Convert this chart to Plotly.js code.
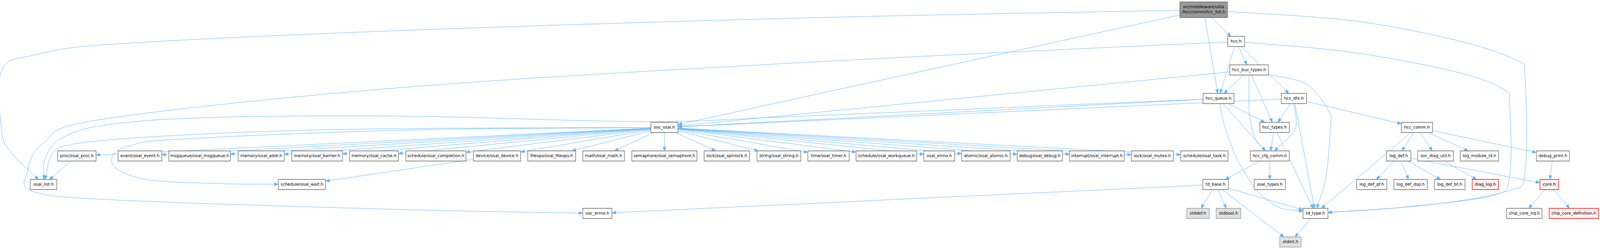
<!DOCTYPE html>
<html>
<head>
<meta charset="utf-8">
<script src="https://cdn.plot.ly/plotly-3.0.1.min.js"></script>
<style>html,body{margin:0;padding:0;background:#fff;overflow:hidden;}</style>
</head>
<body>
<div id="graph"></div>
<script>
// ---- data: which header includes which ----
var mainFile = 'src/middleware/utils/hcc/comm/hcc_list.h';
var sysHeaders = ['stddef.h', 'stdbool.h', 'stdint.h'];
var missingHeaders = ['diag_log.h', 'core.h', 'chip_core_definition.h'];

var osalHeaders = ['proc/osal_proc.h', 'event/osal_event.h', 'msgqueue/osal_msgqueue.h',
  'memory/osal_addr.h', 'memory/osal_barrier.h', 'memory/osal_cache.h',
  'schedule/osal_completion.h', 'device/osal_device.h', 'fileops/osal_fileops.h',
  'math/osal_math.h', 'semaphore/osal_semaphore.h', 'lock/osal_spinlock.h',
  'string/osal_string.h', 'time/osal_timer.h', 'schedule/osal_workqueue.h',
  'osal_errno.h', 'atomic/osal_atomic.h', 'debug/osal_debug.h',
  'interrupt/osal_interrupt.h', 'lock/osal_mutex.h', 'schedule/osal_task.h'];

var includes = [
  [mainFile, 'hcc.h'], [mainFile, 'hcc_queue.h'], [mainFile, 'soc_osal.h'],
  [mainFile, 'osal_list.h'], [mainFile, 'td_type.h'],
  ['hcc.h', 'hcc_bus_types.h'], ['hcc.h', 'hcc_queue.h'], ['hcc.h', 'hcc_dfx.h'],
  ['hcc.h', 'soc_errno.h'], ['hcc.h', 'td_type.h'],
  ['hcc_bus_types.h', 'hcc_queue.h'], ['hcc_bus_types.h', 'hcc_types.h'],
  ['hcc_bus_types.h', 'hcc_cfg_comm.h'], ['hcc_bus_types.h', 'soc_osal.h'],
  ['hcc_bus_types.h', 'td_type.h'],
  ['hcc_queue.h', 'soc_osal.h'], ['hcc_queue.h', 'osal_list.h'], ['hcc_queue.h', 'hcc_types.h'],
  ['hcc_queue.h', 'hcc_cfg_comm.h'], ['hcc_queue.h', 'td_type.h'],
  ['hcc_dfx.h', 'soc_osal.h'], ['hcc_dfx.h', 'hcc_types.h'], ['hcc_dfx.h', 'hcc_cfg_comm.h'],
  ['hcc_dfx.h', 'td_type.h'], ['hcc_dfx.h', 'hcc_comm.h'],
  ['soc_osal.h', 'osal_list.h'], ['soc_osal.h', 'schedule/osal_wait.h'],
  ['proc/osal_proc.h', 'osal_list.h'], ['device/osal_device.h', 'schedule/osal_wait.h'],
  ['hcc_types.h', 'hcc_cfg_comm.h'], ['hcc_types.h', 'td_type.h'],
  ['hcc_cfg_comm.h', 'td_base.h'], ['hcc_cfg_comm.h', 'osal_types.h'],
  ['td_base.h', 'stddef.h'], ['td_base.h', 'stdbool.h'], ['td_base.h', 'stdint.h'],
  ['td_base.h', 'td_type.h'], ['td_base.h', 'soc_errno.h'],
  ['td_type.h', 'stdint.h'],
  ['hcc_comm.h', 'td_type.h'], ['hcc_comm.h', 'log_def.h'], ['hcc_comm.h', 'soc_diag_util.h'],
  ['hcc_comm.h', 'log_module_id.h'], ['hcc_comm.h', 'debug_print.h'],
  ['log_def.h', 'log_def_pf.h'], ['log_def.h', 'log_def_dsp.h'], ['log_def.h', 'log_def_bt.h'],
  ['log_def.h', 'core.h'],
  ['soc_diag_util.h', 'diag_log.h'],
  ['debug_print.h', 'core.h'],
  ['core.h', 'chip_core_irq.h'], ['core.h', 'chip_core_definition.h']
];
osalHeaders.forEach(function (h) { includes.push(['soc_osal.h', h]); });

// ---- layout: box left/right edge and rank of every node (graph units) ----
var GW = 5381, GH = 637;
var rowY = [25, 106, 179, 252, 326, 399, 472, 546, 619];
var boxes = {};
boxes[mainFile] = [3968, 4128, 0];
boxes['hcc.h'] = [4129, 4186, 1];
boxes['hcc_bus_types.h'] = [4136, 4266, 2];
boxes['hcc_queue.h'] = [4046, 4150, 3];
boxes['hcc_dfx.h'] = [4309, 4394, 3];
boxes['soc_osal.h'] = [2189, 2280, 4];
boxes['hcc_types.h'] = [4237, 4336, 4];
boxes['hcc_comm.h'] = [4713, 4818, 4];
var osalLeft = [194, 397, 568, 801, 981, 1176, 1365, 1592, 1775, 1960, 2125, 2368, 2546,
  2717, 2879, 3107, 3234, 3421, 3597, 3805, 3971];
var osalRight = [323, 544, 775, 956, 1152, 1340, 1567, 1751, 1936, 2100, 2344, 2521, 2693,
  2856, 3083, 3211, 3397, 3573, 3781, 3946, 4130];
osalHeaders.forEach(function (h, i) { boxes[h] = [osalLeft[i], osalRight[i], 5]; });
boxes['hcc_cfg_comm.h'] = [4205, 4336, 5];
boxes['log_def.h'] = [4663, 4745, 5];
boxes['soc_diag_util.h'] = [4768, 4888, 5];
boxes['log_module_id.h'] = [4911, 5040, 5];
boxes['debug_print.h'] = [5167, 5278, 5];
boxes['osal_list.h'] = [102, 191, 6];
boxes['schedule/osal_wait.h'] = [936, 1095, 6];
boxes['td_base.h'] = [4045, 4131, 6];
boxes['osal_types.h'] = [4218, 4323, 6];
boxes['log_def_pf.h'] = [4563, 4664, 6];
boxes['log_def_dsp.h'] = [4688, 4800, 6];
boxes['log_def_bt.h'] = [4824, 4927, 6];
boxes['diag_log.h'] = [4951, 5040, 6];
boxes['core.h'] = [5179, 5242, 6];
boxes['soc_errno.h'] = [1960, 2058, 7];
boxes['stddef.h'] = [3991, 4067, 7];
boxes['stdbool.h'] = [4090, 4173, 7];
boxes['td_type.h'] = [4382, 4466, 7];
boxes['chip_core_irq.h'] = [5067, 5186, 7];
boxes['chip_core_definition.h'] = [5210, 5376, 7];
boxes['stdint.h'] = [4304, 4376, 8];

// routing points for the edges that bend around other nodes
var bends = {};
bends[mainFile + '>osal_list.h'] = [[2700, 46], [1350, 78], [400, 112], [120, 140], [6, 180], [6, 335], [40, 392]];
bends['hcc.h>soc_errno.h'] = [[2700, 160], [1350, 224], [344, 305], [146, 366], [92, 440], [112, 490], [400, 512], [1350, 536]];
bends['hcc_queue.h>osal_list.h'] = [[2700, 297], [2180, 311], [1350, 297], [689, 301], [344, 321], [198, 358], [150, 410]];
bends['soc_osal.h>osal_list.h'] = [[1350, 329], [861, 337], [430, 354], [224, 372], [172, 400]];
bends['soc_osal.h>schedule/osal_wait.h'] = [[1350, 333], [603, 356], [440, 372], [382, 395], [390, 430], [500, 460], [750, 470]];
bends[mainFile + '>td_type.h'] = [[4548, 53], [4892, 102], [5099, 154], [5129, 200], [5129, 440], [5073, 488], [4806, 524]];
bends['hcc.h>td_type.h'] = [[4548, 134], [4892, 183], [5055, 228], [5077, 270], [5077, 450], [5021, 500], [4720, 530]];
bends['hcc_bus_types.h>td_type.h'] = [[4393, 215], [4470, 285], [4474, 330], [4460, 450]];
bends['hcc_queue.h>td_type.h'] = [[4118, 320], [4160, 406], [4229, 488], [4300, 530]];
bends['hcc_dfx.h>hcc_cfg_comm.h'] = [[4356, 330]];
bends['hcc_bus_types.h>hcc_cfg_comm.h'] = [[4202, 290], [4222, 356]];

// the browser window may be narrower than the graph: fit it to the window
var W = window.innerWidth || GW, H = window.innerHeight || GH;
if (W > GW) W = GW;
var sx = W / GW, sy = H / GH;

var EDGE = '#63b8ff';
var AL = 10, AW = 4;   // arrowhead length / half width, screen px

function geom(id) {
  var b = boxes[id];
  return {cx: (b[0] + b[1]) / 2, cy: rowY[b[2]], hw: (b[1] - b[0]) / 2, hh: id === mainFile ? 20 : 13};
}
function clip(g, p) {
  var dx = p[0] - g.cx, dy = p[1] - g.cy;
  var t = Math.min(dx ? g.hw / Math.abs(dx) : Infinity, dy ? g.hh / Math.abs(dy) : Infinity);
  return [g.cx + dx * t, g.cy + dy * t];
}
function f(v) { return v.toFixed(1); }

var edgeShapes = [], headShapes = [];
includes.forEach(function (e) {
  var s = geom(e[0]), t = geom(e[1]);
  var via = bends[e[0] + '>' + e[1]] || [];
  var tail = clip(s, via.length ? via[0] : [t.cx, t.cy]);
  var last = via.length ? via[via.length - 1] : [s.cx, s.cy];
  var head = clip(t, last);
  var prev = via.length ? last : tail;
  // direction worked out in screen pixels so the arrowheads keep their shape
  var dx = (head[0] - prev[0]) * sx, dy = (head[1] - prev[1]) * sy;
  var len = Math.sqrt(dx * dx + dy * dy) || 1;
  dx /= len; dy /= len;
  var base = [head[0] - dx * AL / sx, head[1] - dy * AL / sy];
  var pts = [tail].concat(via, [base]);
  var d = 'M' + f(pts[0][0]) + ',' + f(pts[0][1]);
  if (pts.length === 2) {
    d += ' L' + f(base[0]) + ',' + f(base[1]);
  } else {
    for (var i = 0; i < pts.length - 1; i++) {
      var p0 = pts[Math.max(i - 1, 0)], p1 = pts[i], p2 = pts[i + 1], p3 = pts[Math.min(i + 2, pts.length - 1)];
      var c1 = [p1[0] + (p2[0] - p0[0]) / 6, p1[1] + (p2[1] - p0[1]) / 6];
      var c2 = [p2[0] - (p3[0] - p1[0]) / 6, p2[1] - (p3[1] - p1[1]) / 6];
      d += ' C' + f(c1[0]) + ',' + f(c1[1]) + ' ' + f(c2[0]) + ',' + f(c2[1]) + ' ' + f(p2[0]) + ',' + f(p2[1]);
    }
  }
  edgeShapes.push({type: 'path', xref: 'x', yref: 'y', layer: 'below', path: d,
    line: {color: EDGE, width: 1}});
  var nx = -dy * AW / sx, ny = dx * AW / sy;
  headShapes.push({type: 'path', xref: 'x', yref: 'y', layer: 'below',
    path: 'M' + f(head[0]) + ',' + f(head[1]) + ' L' + f(base[0] + nx) + ',' + f(base[1] + ny) +
      ' L' + f(base[0] - nx) + ',' + f(base[1] - ny) + ' Z',
    fillcolor: EDGE, line: {color: EDGE, width: 1}});
});

var names = Object.keys(boxes);
var boxShapes = names.map(function (id) {
  var g = geom(id);
  var fill = '#ffffff', border = '#666666';
  if (id === mainFile) { fill = '#999999'; border = '#666666'; }
  else if (sysHeaders.indexOf(id) >= 0) { fill = '#e0e0e0'; border = '#999999'; }
  else if (missingHeaders.indexOf(id) >= 0) { fill = '#fff0f0'; border = '#ff0000'; }
  return {type: 'rect', xref: 'x', yref: 'y', layer: 'below',
    x0: g.cx - g.hw, x1: g.cx + g.hw, y0: g.cy - g.hh, y1: g.cy + g.hh,
    fillcolor: fill, line: {color: border, width: 1.3}};
});

var labels = {
  x: names.map(function (id) { return geom(id).cx; }),
  y: names.map(function (id) { return geom(id).cy; }),
  text: names.map(function (id) {
    return id === mainFile ? 'src/middleware/utils<br>/hcc/comm/hcc_list.h' : id;
  }),
  mode: 'text',
  type: 'scatter',
  textposition: 'middle center',
  textfont: {family: 'DejaVu Sans', size: Math.min(13, +(13 * sx * 1.06).toFixed(1)), color: '#000000'},
  hoverinfo: 'skip',
  cliponaxis: false
};

var layout = {
  width: W,
  height: H,
  margin: {l: 0, r: 0, t: 0, b: 0},
  paper_bgcolor: '#ffffff',
  plot_bgcolor: '#ffffff',
  showlegend: false,
  hovermode: false,
  xaxis: {range: [0, GW], visible: false, fixedrange: true},
  yaxis: {range: [GH, 0], visible: false, fixedrange: true},
  shapes: edgeShapes.concat(headShapes, boxShapes)
};

Plotly.newPlot('graph', [labels], layout, {displayModeBar: false, staticPlot: true});
</script>
</body>
</html>
